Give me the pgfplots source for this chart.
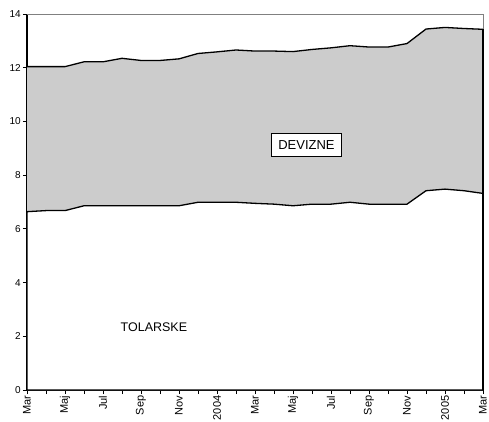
\documentclass[border=0pt]{standalone}
\usepackage{pgfplots}
\pgfplotsset{compat=1.18}
\usepackage{fontspec}
\setmainfont{Liberation Sans}
\begin{document}
\begin{tikzpicture}
% total and tolar-denominated components (upper line = total)
\begin{axis}[
    name=ax,
    scale only axis,
    width=456pt, height=376pt,
    xmin=0, xmax=24, ymin=0, ymax=14,
    axis x line*=bottom, axis y line*=left,
    axis line style={line width=1.3pt},
    xtick={0,...,24},
    xticklabels={Mar,,Maj,,Jul,,Sep,,Nov,,2004,,Mar,,Maj,,Jul,,Sep,,Nov,,2005,,Mar},
    x tick label style={rotate=90, anchor=east, font=\fontsize{11}{12}\selectfont, inner sep=1.5pt},
    ytick={0,2,...,14},
    y tick label style={font=\fontsize{10}{11}\selectfont, inner sep=2pt},
    /pgf/number format/assume math mode=true,
    tick align=outside, tick style={black, line width=0.8pt},
    major tick length=4pt,
    clip=false,
]
\addplot[fill=black!20, draw=none] coordinates {
(0,12.04) (1,12.04) (2,12.04) (3,12.22) (4,12.22) (5,12.35) (6,12.27) (7,12.27)
(8,12.33) (9,12.53) (10,12.59) (11,12.66) (12,12.62) (13,12.62) (14,12.60) (15,12.68)
(16,12.74) (17,12.82) (18,12.77) (19,12.77) (20,12.90) (21,13.44) (22,13.50) (23,13.46) (24,13.43)
} \closedcycle;
\addplot[fill=white, draw=black, line width=1.3pt] coordinates {
(0,6.64) (1,6.68) (2,6.68) (3,6.86) (4,6.86) (5,6.86) (6,6.86) (7,6.86)
(8,6.86) (9,6.99) (10,6.99) (11,6.99) (12,6.95) (13,6.92) (14,6.86) (15,6.92)
(16,6.92) (17,6.99) (18,6.92) (19,6.92) (20,6.92) (21,7.42) (22,7.48) (23,7.42) (24,7.32)
} \closedcycle;
\addplot[draw=black, line width=1.3pt] coordinates {
(0,12.04) (1,12.04) (2,12.04) (3,12.22) (4,12.22) (5,12.35) (6,12.27) (7,12.27)
(8,12.33) (9,12.53) (10,12.59) (11,12.66) (12,12.62) (13,12.62) (14,12.60) (15,12.68)
(16,12.74) (17,12.82) (18,12.77) (19,12.77) (20,12.90) (21,13.44) (22,13.50) (23,13.46) (24,13.43)
};
\draw[gray, line width=0.8pt] (rel axis cs:0,1) -- (rel axis cs:1,1) -- (rel axis cs:1,0);
\draw[black, line width=1.3pt] (axis cs:24,0) -- (axis cs:24,13.43);
\node[draw=black, fill=white, line width=0.8pt, inner xsep=7pt, inner ysep=7pt,
      text height=9.5pt, text depth=0pt, font=\fontsize{13}{14}\selectfont]
    at (axis cs:14.71,9.12) {DEVIZNE};
\node[font=\fontsize{12.5}{13}\selectfont] at (axis cs:6.68,2.35) {TOLARSKE};
\end{axis}
% page margins as in the reference
\path (ax.south west) ++(-27pt,-31pt);
\path (ax.north east) ++(6pt,14pt);
\end{tikzpicture}
\end{document}
